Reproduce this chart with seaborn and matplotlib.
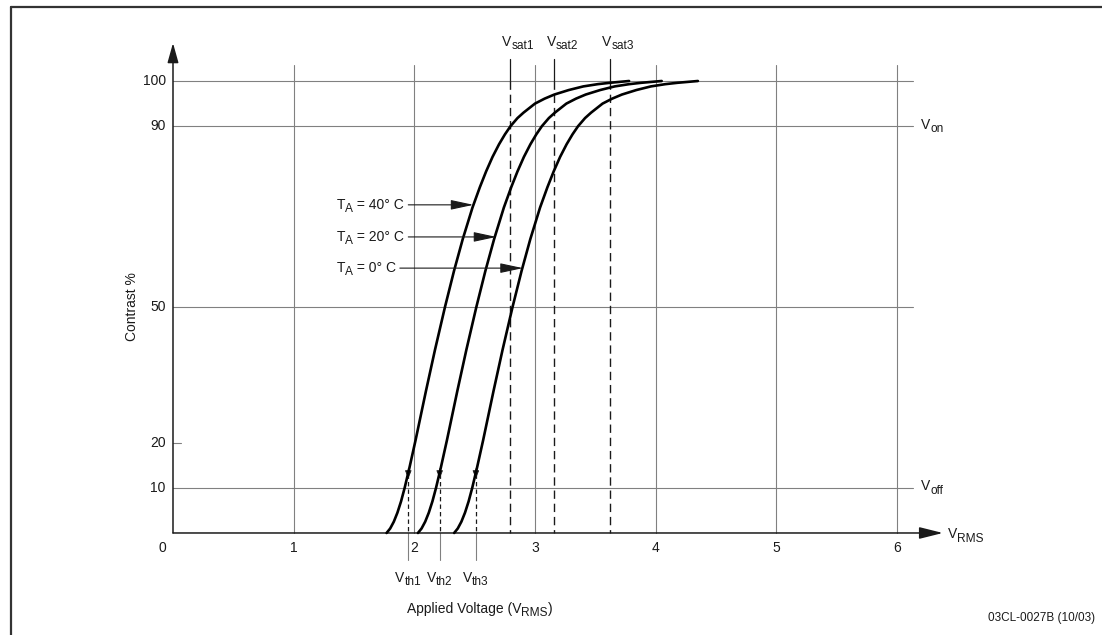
import matplotlib
matplotlib.use("Agg")
import matplotlib.pyplot as plt
from matplotlib.lines import Line2D
import pandas as pd
import seaborn as sns

# Electro-optical response: contrast (%) versus applied RMS voltage
temp_labels = ["40", "20", "0"]
contrast = [0, 1, 2.5, 4.5, 7, 10, 14.5, 20.5, 31.5, 40.5, 50, 58, 65, 72, 76.5, 80,
            83.2, 86, 88.2, 90, 91.8, 93, 95, 96.1, 97, 98, 98.8, 99.3, 99.6, 100]
volt_40 = [1.77, 1.80, 1.83, 1.86, 1.89, 1.92, 1.96, 2.01, 2.097, 2.171, 2.254, 2.329,
           2.401, 2.482, 2.543, 2.595, 2.648, 2.702, 2.751, 2.797, 2.855, 2.905, 3.00,
           3.08, 3.16, 3.28, 3.40, 3.52, 3.62, 3.78]
volt_20 = [2.03, 2.06, 2.09, 2.12, 2.15, 2.18, 2.22, 2.27, 2.357, 2.431, 2.514, 2.589,
           2.661, 2.742, 2.803, 2.855, 2.908, 2.962, 3.011, 3.057, 3.115, 3.165, 3.26,
           3.34, 3.42, 3.54, 3.66, 3.78, 3.88, 4.05]
volt_0 = [2.33, 2.36, 2.39, 2.42, 2.45, 2.48, 2.52, 2.57, 2.657, 2.731, 2.814, 2.889,
          2.961, 3.042, 3.103, 3.155, 3.208, 3.262, 3.311, 3.357, 3.415, 3.465, 3.56,
          3.64, 3.72, 3.84, 3.96, 4.08, 4.18, 4.35]

# Threshold and saturation voltages
v_th = [1.95, 2.21, 2.51]
v_sat = [2.79, 3.16, 3.62]
th_names = ["th1", "th2", "th3"]
sat_names = ["sat1", "sat2", "sat3"]

# Axis annotations
x_ticks = [1, 2, 3, 4, 5, 6]
y_grid = [10, 50, 90, 100]
y_labels = [100, 90, 50, 20, 10]

# Temperature callouts: label height and the point on each curve they point to
callout_y = [72.6, 65.5, 58.6]
callout_x = [2.49, 2.68, 2.90]

sns.set_theme(style="white")
plt.rcParams["font.family"] = ["Liberation Sans", "DejaVu Sans"]

fig = plt.figure(figsize=(11.02, 6.35), dpi=100)
fig.patch.set_facecolor("white")
ax = fig.add_axes([0, 0, 1, 1])
ax.set_xlim(-1.4337, 7.699)
ax.set_ylim(-22.57, 117.92)
ax.axis("off")

GRID = "#808080"
INK = "#1a1a1a"
FS = 10
SUB_FS = 8.6
SUB_DROP = 3.0  # points

pending = []


def chain(x, y, parts, ha="left", fs=FS):
    """Draw text made of normal and subscript runs, laid out left to right."""
    first, _ = parts[0]
    texts = [ax.text(x, y, first, ha="left", va="center", fontsize=fs, color=INK)]
    prev_sub = False
    for txt, is_sub in parts[1:]:
        dy = (-SUB_DROP if is_sub else 0) - (-SUB_DROP if prev_sub else 0)
        t = ax.annotate(txt, xy=(1, 0.5), xycoords=texts[-1], xytext=(0, dy),
                        textcoords="offset points", ha="left", va="center",
                        fontsize=SUB_FS if is_sub else fs, color=INK)
        texts.append(t)
        prev_sub = is_sub
    pending.append((texts, ha, x, y))


# grid
for xv in x_ticks:
    ax.plot([xv, xv], [0, 103.5], color=GRID, lw=0.8, zorder=1)
for yv in y_grid:
    ax.plot([0, 6.13], [yv, yv], color=GRID, lw=0.8, zorder=1)
ax.plot([0, 0.066], [20, 20], color=GRID, lw=0.8, zorder=1)

# axes with arrowheads
ax.annotate("", xy=(0, 108.4), xytext=(0, 0),
            arrowprops=dict(arrowstyle="-|>,head_length=1.0,head_width=0.28",
                            color=INK, lw=1.1, mutation_scale=12,
                            shrinkA=0, shrinkB=0), zorder=3)
ax.annotate("", xy=(6.38, 0), xytext=(0, 0),
            arrowprops=dict(arrowstyle="-|>,head_length=1.2,head_width=0.3",
                            color=INK, lw=1.1, mutation_scale=12,
                            shrinkA=0, shrinkB=0), zorder=3)

# threshold markers
for v, nm in zip(v_th, th_names):
    ax.plot([v, v], [13.0, 0], color=INK, lw=0.9, ls=(0, (3.5, 2.5)), zorder=2)
    ax.plot([v, v], [0, -6.0], color=GRID, lw=0.8, zorder=2)
    ax.annotate("", xy=(v, 12.0), xytext=(v, 14.2),
                arrowprops=dict(arrowstyle="-|>,head_length=0.5,head_width=0.2",
                                color=INK, lw=0.6, mutation_scale=10,
                                shrinkA=0, shrinkB=0), zorder=3)
    chain(v, -10.0, [("V", False), (nm, True)], ha="center")

# saturation markers
for v, nm in zip(v_sat, sat_names):
    ax.plot([v, v], [100, 0], color=INK, lw=1.0, ls=(0, (6, 3.5)), zorder=2)
    ax.plot([v, v], [100, 104.9], color=INK, lw=0.9, zorder=2)
    chain(v + 0.07, 108.6, [("V", False), (nm, True)], ha="center")

# contrast curves
frames = []
for lab, vs in zip(temp_labels, [volt_40, volt_20, volt_0]):
    frames.append(pd.DataFrame({"volt": vs, "contrast": contrast, "temp": lab}))
curves = pd.concat(frames, ignore_index=True)
sns.lineplot(data=curves, x="volt", y="contrast", hue="temp",
             palette={t: "black" for t in temp_labels}, sort=False,
             estimator=None, legend=False, lw=1.9, ax=ax, zorder=4)
for line in ax.get_lines()[-3:]:
    line.set_solid_joinstyle("round")
    line.set_solid_capstyle("round")

# temperature callouts
text_start = [1.95, 1.95, 1.88]
for lab, ty, tx, xs in zip(temp_labels, callout_y, callout_x, text_start):
    chain(1.355, ty, [("T", False), ("A", True), (" = %s° C" % lab, False)])
    ax.annotate("", xy=(tx, ty), xytext=(xs, ty),
                arrowprops=dict(arrowstyle="-|>,head_length=1.4,head_width=0.3",
                                color=INK, lw=0.8, mutation_scale=10,
                                shrinkA=0, shrinkB=0), zorder=5)

# tick labels
for xv in x_ticks:
    ax.text(xv, -3.3, str(xv), ha="center", va="center", fontsize=FS, color=INK)
for yv in y_labels:
    ax.text(-0.06, yv, str(yv), ha="right", va="center", fontsize=FS, color=INK)
ax.text(-0.06, -3.3, "0", ha="right", va="center", fontsize=FS, color=INK)

# right-hand labels
chain(6.2, 90.3, [("V", False), ("on", True)])
chain(6.2, 10.3, [("V", False), ("off", True)])
chain(6.42, -0.3, [("V", False), ("RMS", True)])

# axis titles
ax.text(-0.34, 50, "Contrast %", rotation=90, ha="center", va="center",
        fontsize=FS, color=INK)
chain(2.54, -16.8, [("Applied Voltage (V", False), ("RMS", True), (")", False)],
      ha="center")
ax.text(7.645, -18.7, "03CL-0027B (10/03)", ha="right", va="center",
        fontsize=8.5, color=INK)

# page frame
fig.add_artist(Line2D([10.5 / 1102, 10.5 / 1102], [0, 1 - 6.5 / 635],
                      transform=fig.transFigure, color="#333333", lw=1.6))
fig.add_artist(Line2D([10.5 / 1102, 1], [1 - 6.5 / 635, 1 - 6.5 / 635],
                      transform=fig.transFigure, color="#333333", lw=1.6))

# shift centred multi-run labels once their widths are known
fig.canvas.draw()
renderer = fig.canvas.get_renderer()
inv = ax.transData.inverted()
for texts, ha, x, y in pending:
    if ha == "left":
        continue
    x0 = texts[0].get_window_extent(renderer).x0
    x1 = max(t.get_window_extent(renderer).x1 for t in texts)
    width = x1 - x0
    shift = width / 2 if ha == "center" else width
    px, py = ax.transData.transform((x, y))
    nx, _ = inv.transform((px - shift, py))
    texts[0].set_x(nx)

fig.savefig("out.png", dpi=100, facecolor="white")
